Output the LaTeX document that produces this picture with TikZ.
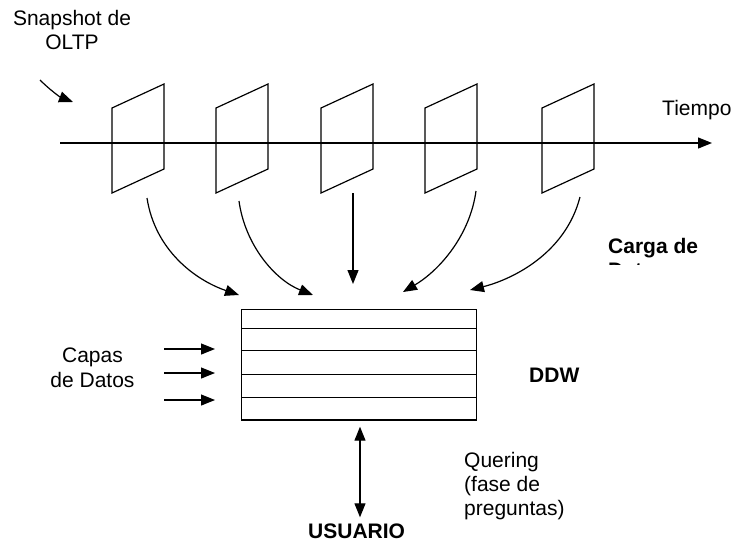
\documentclass[tikz,border=0pt]{standalone}
\usepackage{fontspec}
\setmainfont{Liberation Sans}
\usetikzlibrary{arrows.meta}
\usetikzlibrary{calc}

\tikzset{
  flecha/.style={-{Triangle[length=14pt,width=11pt]}, line width=1.2pt},
  dobleflecha/.style={{Triangle[length=14pt,width=11pt]}-{Triangle[length=14pt,width=11pt]}, line width=1.2pt},
  rotulo/.style={font=\fontsize{21}{24}\selectfont, inner sep=0pt},
  rotulonegro/.style={font=\fontsize{21}{24}\selectfont\bfseries, inner sep=0pt},
}

\begin{document}
\begin{tikzpicture}[x=1pt,y=-1pt]
        \newcommand{\snapancho}{52}
        \newcommand{\snapsube}{24}
        \newcommand{\snapalto}{85}
        \newcommand{\snaptop}{108}
        \newcommand{\ejey}{143}
        \useasboundingbox (0,0) rectangle (736,542);
        % eje del tiempo
        \coordinate (ejeini) at (60,\ejey);
        \coordinate (ejefin) at (712,\ejey);
        \draw[flecha] (ejeini) -- (ejefin);
        \node[rotulo, anchor=base west] (tiempo) at (662,115) {Tiempo};
        % snapshots
        \foreach \sx in {112,216,321,425,542} {
            \draw[line width=1.2pt] (\sx,\snaptop) -- ++(\snapancho,-\snapsube) -- ++(0,\snapalto) -- ++(-\snapancho,\snapsube) -- cycle;
        }
        \node[rotulo, anchor=base] (snap) at (72,25) {Snapshot de};
        \node[rotulo, anchor=base] (oltp) at (72,49) {OLTP};
        \coordinate (snapini) at (40,80);
        \coordinate (snapfin) at (73,102);
        \draw[flecha] (snapini) .. controls (50,90) and (60,97) .. (snapfin);
        % almacen DDW
        \node[draw, line width=1.2pt, inner sep=0pt, minimum width=235pt, minimum height=110.7pt] (ddw) at (359.2,364.7) {};
        \foreach \dy in {19.4,41.4,65.4,88.7} {
            \draw[line width=1.2pt] ($(ddw.north west)+(0,\dy)$) -- ($(ddw.north east)+(0,\dy)$);
        }
        \node[rotulonegro, anchor=base west] (ddwtxt) at (529,382) {DDW};
        % carga de datos
        \coordinate (s1) at (147,198);
        \coordinate (s2) at (239,201);
        \coordinate (s3) at (353,193);
        \coordinate (s4) at (476,191);
        \coordinate (s5) at (580,197);
        \coordinate (c1) at (239,295);
        \coordinate (c2) at (313,295);
        \coordinate (c3) at (353,284);
        \coordinate (c4) at (403,292);
        \coordinate (c5) at (470,290);
        \draw[flecha] (s1) .. controls (155,250) and (195,280) .. (c1);
        \draw[flecha] (s2) .. controls (245,245) and (275,280) .. (c2);
        \draw[flecha] (s3) -- (c3);
        \draw[flecha] (s4) .. controls (470,235) and (440,270) .. (c4);
        \draw[flecha] (s5) .. controls (565,255) and (510,280) .. (c5);
        \node[rotulonegro, anchor=base west] (carga) at (608,253) {Carga de};
        \begin{scope}
            \clip (600,255) rectangle (730,264);
            \node[rotulonegro, anchor=base west] (datos) at (608,277) {Datos};
        \end{scope}
        % capas
        \node[rotulo, anchor=base] (capas) at (92.5,362) {Capas};
        \node[rotulo, anchor=base] (dedatos) at (92.5,387) {de Datos};
        \foreach \cy in {349,373,400} {
            \draw[flecha] (164,\cy) -- (215,\cy);
        }
        % usuario
        \node[rotulonegro, anchor=base west] (usuario) at (308,538) {USUARIO};
        \coordinate (qarriba) at (360,426.7);
        \coordinate (qabajo) at (360,517.3);
        \draw[dobleflecha] (qarriba) -- (qabajo);
        \node[rotulo, anchor=base west] (q1) at (464,467) {Quering};
        \node[rotulo, anchor=base west] (q2) at (464,491) {(fase de};
        \node[rotulo, anchor=base west] (q3) at (464,515) {preguntas)};
\end{tikzpicture}
\end{document}
